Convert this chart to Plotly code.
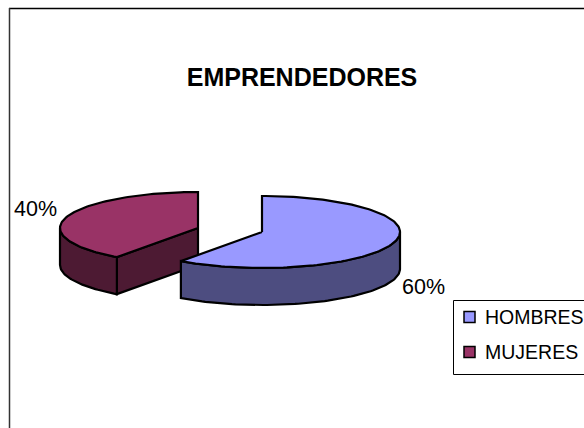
import numpy as np
import plotly.graph_objects as go

# Data
categories = ["HOMBRES", "MUJERES"]
shares = [60, 40]
label_texts = ["60%", "40%"]
chart_title = "EMPRENDEDORES"

# Styles and layout
TOP_COLORS = ["#9999FF", "#993366"]
SIDE_COLORS = ["#4D4D80", "#4D1A33"]
CENTERS = [(262, 232), (198, 228)]
RX, RY, DEPTH = 138, 36, 37
W, H = 584, 428
FONT = "Liberation Sans, Arial, sans-serif"
LEGEND_SWATCH_X = 469.5
LEGEND_TEXT_X = 484
LEGEND_ROWS_Y = [317, 352]

total = sum(shares)
edges = np.cumsum([0] + shares) / total * 2 * np.pi


def rim(center, a0, a1, drop=0):
    a = np.linspace(a0, a1, max(2, int(abs(a1 - a0) * 40)))
    return center[0] + RX * np.sin(a), center[1] - RY * np.cos(a) + drop


def poly(x, y, color):
    return go.Scatter(
        x=np.append(x, x[0]), y=np.append(y, y[0]), mode="lines", fill="toself",
        fillcolor=color, line=dict(color="black", width=2.2),
        hoverinfo="skip", showlegend=False,
    )


def extrude(x, y):
    return np.concatenate([x, x[::-1]]), np.concatenate([y, y[::-1] + DEPTH])


def slice_traces(i):
    c = CENTERS[i]
    a0, a1 = edges[i], edges[i + 1]
    traces = []
    # Cut face running from the centre to the rim at the slice boundary
    if i == 1:
        ex, ey = rim(c, a0, a0)
        fx, fy = extrude(np.array([c[0], ex[0]], float), np.array([c[1], ey[0]], float))
        traces.append(poly(fx, fy, SIDE_COLORS[i]))
    # Outer wall: only the front half (90 to 270 degrees) is visible
    v0, v1 = max(a0, np.pi / 2), min(a1, 3 * np.pi / 2)
    if v1 > v0:
        wx, wy = rim(c, v0, v1)
        sx, sy = extrude(wx, wy)
        traces.append(poly(sx, sy, SIDE_COLORS[i]))
    # Top face
    tx, ty = rim(c, a0, a1)
    traces.append(poly(np.concatenate([[c[0]], tx]), np.concatenate([[c[1]], ty]), TOP_COLORS[i]))
    return traces


fig = go.Figure()
for i in [1, 0]:
    for t in slice_traces(i):
        fig.add_trace(t)

# Legend entries
for i in range(len(categories)):
    fig.add_trace(go.Scatter(
        x=[LEGEND_SWATCH_X], y=[LEGEND_ROWS_Y[i]], mode="markers", name=categories[i],
        marker=dict(symbol="square", size=11, color=TOP_COLORS[i], line=dict(color="black", width=1.5)),
        hoverinfo="name", showlegend=False,
    ))

legend_annotations = [
    dict(x=LEGEND_TEXT_X, y=LEGEND_ROWS_Y[i], text=categories[i], showarrow=False, xanchor="left",
         xshift=-1, font=dict(size=19.5, family=FONT, color="black"))
    for i in range(len(categories))
]

fig.update_layout(
    width=W, height=H, autosize=False,
    margin=dict(l=0, r=0, t=0, b=0),
    paper_bgcolor="white", plot_bgcolor="white",
    font=dict(family=FONT, color="black"),
    showlegend=False,
    xaxis=dict(range=[0, W], visible=False, fixedrange=True),
    yaxis=dict(range=[H, 0], visible=False, fixedrange=True),
    title=dict(text="<b>%s</b>" % chart_title, font=dict(size=25, family=FONT, color="black"),
               x=302 / W, xanchor="center", xref="container",
               y=1 - 77 / H, yanchor="middle", yref="container"),
    shapes=[
        dict(type="line", x0=9, x1=W, y0=8.5, y1=8.5, line=dict(color="black", width=1.5), layer="below"),
        dict(type="line", x0=9.5, x1=9.5, y0=8, y1=H, line=dict(color="#333333", width=1.5), layer="below"),
        dict(type="rect", x0=453.5, x1=W + 5, y0=300.5, y1=374.5, line=dict(color="black", width=1), layer="below"),
    ],
    annotations=[
        dict(x=423.5, y=287, text=label_texts[0], showarrow=False, font=dict(size=21.5, family=FONT, color="black")),
        dict(x=35.5, y=209, text=label_texts[1], showarrow=False, font=dict(size=21.5, family=FONT, color="black")),
    ] + legend_annotations,
)
fig.write_html("out.html", config=dict(displayModeBar=False),
               post_script="document.body.style.margin='0';document.documentElement.style.overflow='hidden';")
